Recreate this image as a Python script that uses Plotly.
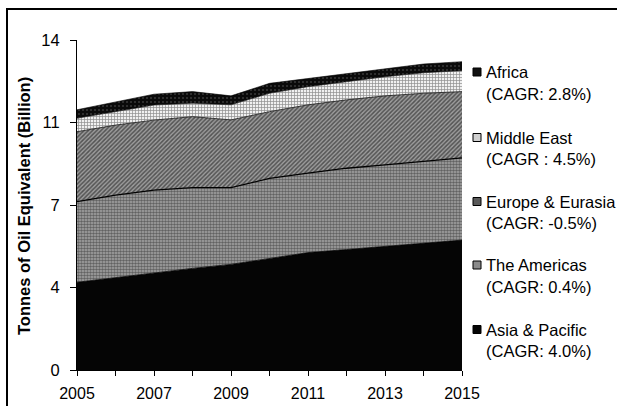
import plotly.graph_objects as go

# Years on the x axis
years = list(range(2005, 2016))

# Primary energy consumption by region, billion tonnes of oil equivalent
asia_pacific = [3.72, 3.92, 4.12, 4.31, 4.48, 4.73, 4.98, 5.11, 5.25, 5.38, 5.51]
americas = [3.42, 3.50, 3.51, 3.43, 3.26, 3.40, 3.37, 3.45, 3.45, 3.46, 3.49]
europe_eurasia = [2.97, 2.97, 2.97, 3.01, 2.87, 2.83, 2.90, 2.90, 2.93, 2.90, 2.81]
middle_east = [0.57, 0.56, 0.64, 0.57, 0.64, 0.78, 0.77, 0.77, 0.81, 0.87, 0.89]
africa = [0.36, 0.43, 0.46, 0.49, 0.38, 0.42, 0.35, 0.35, 0.35, 0.37, 0.38]

# Legend labels (top to bottom): region name and growth rate
legend_names = ["Africa", "Middle East", "Europe & Eurasia", "The Americas", "Asia & Pacific"]
legend_cagr = ["(CAGR: 2.8%)", "(CAGR : 4.5%)", "(CAGR: -0.5%)", "(CAGR: 0.4%)", "(CAGR: 4.0%)"]

# Axis ticks
y_tickvals = [0, 3.5, 7, 10.5, 14]
y_ticktext = ["0", "4", "7", "11", "14"]
x_ticktext = [str(y) if y % 2 == 1 else "" for y in years]

FONT = "Arial, Liberation Sans, sans-serif"

fig = go.Figure()

series = [
    ("Asia & Pacific", asia_pacific,
     dict(fillcolor="#050505", line=dict(color="#000", width=0.8))),
    ("The Americas", americas,
     dict(fillcolor="#7c7c7c", line=dict(color="#000", width=1.3),
          fillpattern=dict(shape=".", size=3, solidity=0.55,
                           fgcolor="#1e1e1e", bgcolor="#a6a6a6"))),
    ("Europe & Eurasia", europe_eurasia,
     dict(fillcolor="#555", line=dict(color="#111", width=0.8),
          fillpattern=dict(shape="/", size=3, solidity=0.5,
                           fgcolor="#0a0a0a", bgcolor="#9c9c9c"))),
    ("Middle East", middle_east,
     dict(fillcolor="#c4c4c4", line=dict(color="#111", width=0.6),
          fillpattern=dict(shape="+", size=3, solidity=0.4,
                           fgcolor="#2a2a2a", bgcolor="#f0f0f0"))),
    ("Africa", africa,
     dict(fillcolor="#111", line=dict(color="#000", width=0.6),
          fillpattern=dict(shape=".", size=4, solidity=0.2,
                           fgcolor="#6a6a6a", bgcolor="#0a0a0a"))),
]

for name, vals, style in series:
    fig.add_trace(go.Scatter(
        x=years, y=vals, name=name, mode="lines",
        stackgroup="energy", showlegend=False, hoverinfo="skip",
        **style,
    ))

# Plot-area geometry in pixels (used to place the custom legend and frame)
W, H = 617, 406
ML, MR, MT, MB = 77, 155, 40, 36
PW, PH = W - ML - MR, H - MT - MB


def px_x(p):
    return (p - ML) / PW


def px_y(p):
    return (H - MB - p) / PH


shapes = []
annotations = []

# Outer frame
shapes.append(dict(type="rect", xref="paper", yref="paper",
                   x0=px_x(7), x1=px_x(W + 10), y0=px_y(H + 10), y1=px_y(9),
                   line=dict(color="#000", width=2), fillcolor="rgba(0,0,0,0)",
                   layer="above"))

# Custom legend: swatch + two-line label
legend_swatches = ["#111", "#d0d0d0", "#5a5a5a", "#8a8a8a", "#050505"]
legend_rows = [72, 137.5, 201.5, 265, 329.5]
for name, cagr, col, cy in zip(legend_names, legend_cagr, legend_swatches, legend_rows):
    shapes.append(dict(type="rect", xref="paper", yref="paper",
                       x0=px_x(473), x1=px_x(481), y0=px_y(cy + 4), y1=px_y(cy - 4),
                       line=dict(color="#000", width=1), fillcolor=col))
    for txt, dy in ((name, 0), (cagr, 21.6)):
        annotations.append(dict(xref="paper", yref="paper", x=px_x(484), y=px_y(cy + dy),
                                text=txt, showarrow=False, xanchor="left",
                                yanchor="middle", align="left",
                                font=dict(family=FONT, size=16.5, color="#000")))

# Y axis title
annotations.append(dict(xref="paper", yref="paper", x=px_x(24), y=px_y(206),
                        text="<b>Tonnes of Oil Equivalent (Billion)</b>",
                        textangle=-90, showarrow=False,
                        xanchor="center", yanchor="middle",
                        font=dict(family=FONT, size=16.5, color="#000")))

fig.update_layout(
    width=W, height=H,
    margin=dict(l=ML, r=MR, t=MT, b=MB, pad=0, autoexpand=False),
    paper_bgcolor="white", plot_bgcolor="white",
    font=dict(family=FONT, color="#000"),
    shapes=shapes, annotations=annotations,
    showlegend=False,
)
fig.update_xaxes(
    range=[2005, 2015], tickvals=years, ticktext=x_ticktext, automargin=False,
    showgrid=False, zeroline=False, showline=True, linecolor="#000", linewidth=1,
    ticks="outside", ticklen=5, tickcolor="#000", tickwidth=1,
    tickfont=dict(family=FONT, size=16, color="#000"), ticklabelstandoff=4,
)
fig.update_yaxes(
    range=[0, 14], tickvals=y_tickvals, ticktext=y_ticktext, automargin=False,
    showgrid=False, zeroline=False, showline=True, linecolor="#000", linewidth=1,
    ticks="outside", ticklen=6, tickcolor="#000", tickwidth=1,
    tickfont=dict(family=FONT, size=16.5, color="#000"), ticklabelstandoff=7,
)

fig.write_html("out.html")
